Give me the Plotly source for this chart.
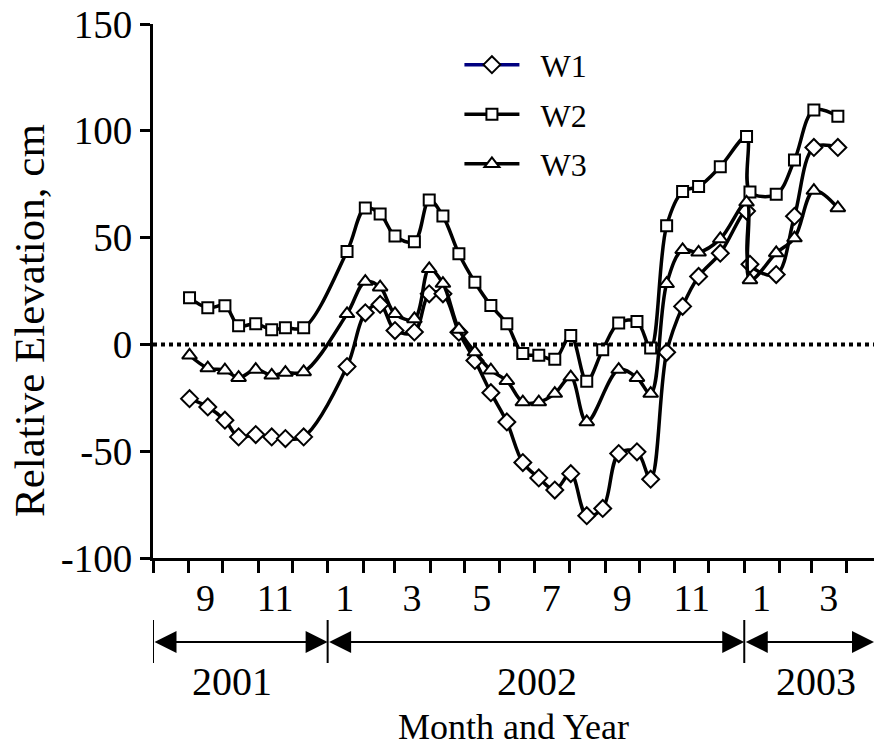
import plotly.graph_objects as go

dates = ["2001-09-02", "2001-09-18", "2001-10-03", "2001-10-15", "2001-10-30", "2001-11-13",
         "2001-11-25", "2001-12-11", "2002-01-18", "2002-02-03", "2002-02-16", "2002-03-01",
         "2002-03-18", "2002-03-31", "2002-04-12", "2002-04-26", "2002-05-10", "2002-05-24",
         "2002-06-07", "2002-06-21", "2002-07-05", "2002-07-19", "2002-08-02", "2002-08-16",
         "2002-08-30", "2002-09-13", "2002-09-29", "2002-10-11", "2002-10-25", "2002-11-08",
         "2002-11-22", "2002-12-11", "2003-01-03", "2003-01-06", "2003-01-29", "2003-02-14",
         "2003-03-03", "2003-03-24"]

w1 = [-25.4, -29.3, -35.5, -43.3, -42.2, -43.3, -44.1, -43.3, -10.4, 14.8, 18.7, 6.5,
      5.8, 23.7, 23.7, 5.7, -7.5, -22.6, -36.3, -55.3, -62.5, -68.2, -60.5, -80.2,
      -76.8, -51.1, -50.3, -63.1, -3.7, 17.8, 31.8, 42.7, 62.4, 37.5, 32.7, 60.0,
      92.2, 92.2]

w2 = [21.8, 17.1, 18.1, 8.7, 9.7, 6.9, 7.8, 7.8, 43.5, 63.9, 61.1, 50.8,
      48.1, 67.6, 60.1, 42.4, 29.1, 18.2, 9.7, -4.3, -5.1, -7.0, 4.2, -17.2,
      -2.5, 10.0, 10.7, -1.7, 55.6, 71.6, 73.9, 83.2, 97.3, 71.4, 70.3, 86.3,
      109.7, 106.8]

w3 = [-5.1, -11.1, -12.1, -15.6, -11.8, -14.5, -13.2, -12.9, 14.3, 29.4, 26.8, 14.3,
      11.9, 35.4, 28.5, 7.0, -3.6, -12.1, -17.0, -27.0, -27.0, -23.0, -15.3, -36.3,
      None, -11.8, -15.6, -23.0, 28.4, 44.3, 43.1, 49.4, 66.5, 30.2, 42.8, 49.8,
      72.0, 63.9]

y_tick_vals = [-100, -50, 0, 50, 100, 150]
y_tick_labels = ["-100", "-50", "0", "50", "100", "150"]

month_tick_dates = ["2001-09-16", "2001-11-16", "2002-01-16", "2002-03-16", "2002-05-16",
                    "2002-07-16", "2002-09-16", "2002-11-16", "2003-01-16", "2003-03-16"]
month_tick_labels = ["9", "11", "1", "3", "5", "7", "9", "11", "1", "3"]

years = ["2001", "2002", "2003"]
year_bounds = ["2001-08-01", "2002-01-01", "2003-01-01", "2003-04-24 16:00"]
year_label_dates = ["2001-10-09", "2002-07-03", "2003-03-05"]

FONT = "Liberation Serif, Times New Roman, serif"
NB = "\u00a0\u00a0"

fig = go.Figure()

series = [("W1", w1, "diamond", 13, "#000080"),
          ("W2", w2, "square", 11, "black"),
          ("W3", w3, "triangle-up", 13, "black")]

for name, vals, sym, size, legcol in series:
    fig.add_trace(go.Scatter(
        x=dates, y=vals, mode="lines+markers", name=name, showlegend=False,
        connectgaps=True,
        line=dict(color="black", width=3.5, shape="spline", smoothing=1.0),
        marker=dict(symbol=sym, size=size, color="white", line=dict(color="black", width=2)),
    ))

for name, vals, sym, size, legcol in series:
    fig.add_trace(go.Scatter(
        x=[None], y=[None], mode="lines+markers", name=NB + name, legendgroup=name,
        line=dict(color=legcol, width=3.5),
        marker=dict(symbol=sym, size=size, color="white", line=dict(color="black", width=2)),
    ))

# zero reference line
fig.add_shape(type="line", xref="paper", yref="y", x0=0, x1=1, y0=0, y1=0,
              line=dict(color="black", width=4, dash="4px,4px"))

# year band
ARROW_Y = -0.1573
for i in range(3):
    fig.add_annotation(x=year_bounds[i + 1], y=ARROW_Y, xref="x", yref="paper",
                       ax=year_bounds[i], ay=0, axref="x", ayref="pixel",
                       text="", showarrow=True, arrowhead=2, arrowside="end+start",
                       arrowsize=2.2, arrowwidth=2, arrowcolor="black",
                       standoff=0, startstandoff=0)
    fig.add_annotation(x=year_label_dates[i], y=-0.232, xref="x", yref="paper",
                       xanchor="center", yanchor="middle",
                       text=years[i], showarrow=False,
                       font=dict(family=FONT, size=40, color="black"))
for b in year_bounds[:3]:
    fig.add_shape(type="line", xref="x", yref="paper", x0=b, x1=b, y0=-0.1161, y1=-0.1966,
                  line=dict(color="black", width=2))

fig.add_annotation(x=0.5, y=-0.316, xref="paper", yref="paper", text="Month and Year",
                   xanchor="center", yanchor="middle",
                   showarrow=False, font=dict(family=FONT, size=36, color="black"))
fig.add_annotation(x=-0.1706, y=0.4457, xref="paper", yref="paper", text="Relative Elevation, cm",
                   xanchor="center", yanchor="middle",
                   textangle=-90, showarrow=False, font=dict(family=FONT, size=43, color="black"))

fig.update_xaxes(
    type="date", range=["2001-08-01", "2003-04-24 16:00"],
    showline=True, linecolor="black", linewidth=3, showgrid=False, zeroline=False,
    tickmode="array", tickvals=month_tick_dates, ticktext=month_tick_labels,
    ticks="", ticklen=0, ticklabelstandoff=4,
    tickfont=dict(family=FONT, size=38, color="black"),
    minor=dict(ticks="outside", dtick="M1", tick0="2001-08-01", ticklen=12, tickwidth=3,
               tickcolor="black", showgrid=False),
)
fig.update_yaxes(
    range=[-100, 150], tickmode="array", tickvals=y_tick_vals, ticktext=y_tick_labels,
    showline=True, linecolor="black", linewidth=3, showgrid=False, zeroline=False,
    ticks="outside", ticklen=10, tickwidth=3, tickcolor="black",
    tickfont=dict(family=FONT, size=39, color="black"),
)

fig.update_layout(
    width=874, height=748,
    margin=dict(l=153, r=0, t=24, b=190),
    plot_bgcolor="white", paper_bgcolor="white",
    font=dict(family=FONT, color="black"),
    legend=dict(x=0.425, y=0.975, xanchor="left", yanchor="top", bgcolor="rgba(0,0,0,0)",
                font=dict(family=FONT, size=32, color="black"), tracegroupgap=5,
                itemwidth=55),
)

fig.write_html("out.html")
